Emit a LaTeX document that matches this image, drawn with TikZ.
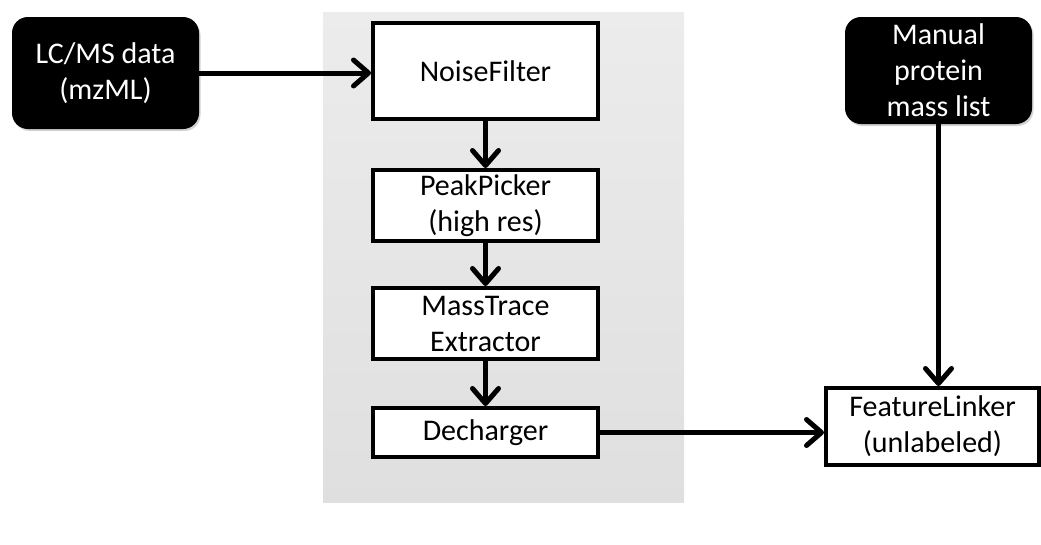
\documentclass[tikz,border=0pt]{standalone}
\usepackage{fontspec}
\setmainfont{Carlito}
\usetikzlibrary{arrows.meta,shadows}

\tikzset{
  stepbox/.style={draw=black,line width=4pt,fill=white,align=center,inner sep=0pt,minimum width=225pt,font=\fontsize{30}{36}\selectfont},
  databox/.style={fill=black,rounded corners=16pt,text=white,align=center,inner sep=0pt,minimum width=187pt,font=\fontsize{30}{36}\selectfont,drop shadow={opacity=0.35,shadow xshift=1.5pt,shadow yshift=-2pt}},
  flow/.style={line width=5pt,-{Straight Barb[length=15pt,width=26pt,line cap=round,line join=round]}}
}

\begin{document}
\begin{tikzpicture}[x=1pt,y=-1pt]
\path[use as bounding box] (0,0) rectangle (1041,544);
% grey panel behind the processing chain
\shade[top color=gray!15,middle color=gray!38,bottom color=gray!25] (323,12) rectangle (684,502);
% inputs
\node[databox,minimum height=112pt] (lcms) at (105.5,73) {LC/MS data\\(mzML)};
\node[databox,minimum height=107pt] (masslist) at (938.5,70.5) {Manual\\protein\\mass list};
% processing chain
\node[stepbox,minimum height=96pt] (noise) at (485.5,71) {NoiseFilter};
\node[stepbox,minimum height=71pt] (peak) at (485.5,205.5) {PeakPicker\\(high res)};
\node[stepbox,minimum height=71pt] (trace) at (485.5,323.5) {MassTrace\\Extractor};
\node[stepbox,minimum height=49pt] (decharge) at (485.5,432.5) {Decharger};
\node[stepbox,minimum width=213pt,minimum height=77pt] (linker) at (932.5,426.5) {FeatureLinker\\(unlabeled)};
% connectors
\draw[flow] (lcms.east) -- (lcms.east -| noise.west);
\draw[flow] (noise) -- (peak);
\draw[flow] (peak) -- (trace);
\draw[flow] (trace) -- (decharge);
\draw[flow] (decharge.east) -- (decharge.east -| linker.west);
\draw[flow] (masslist.south) -- (masslist.south |- linker.north);
\end{tikzpicture}
\end{document}
